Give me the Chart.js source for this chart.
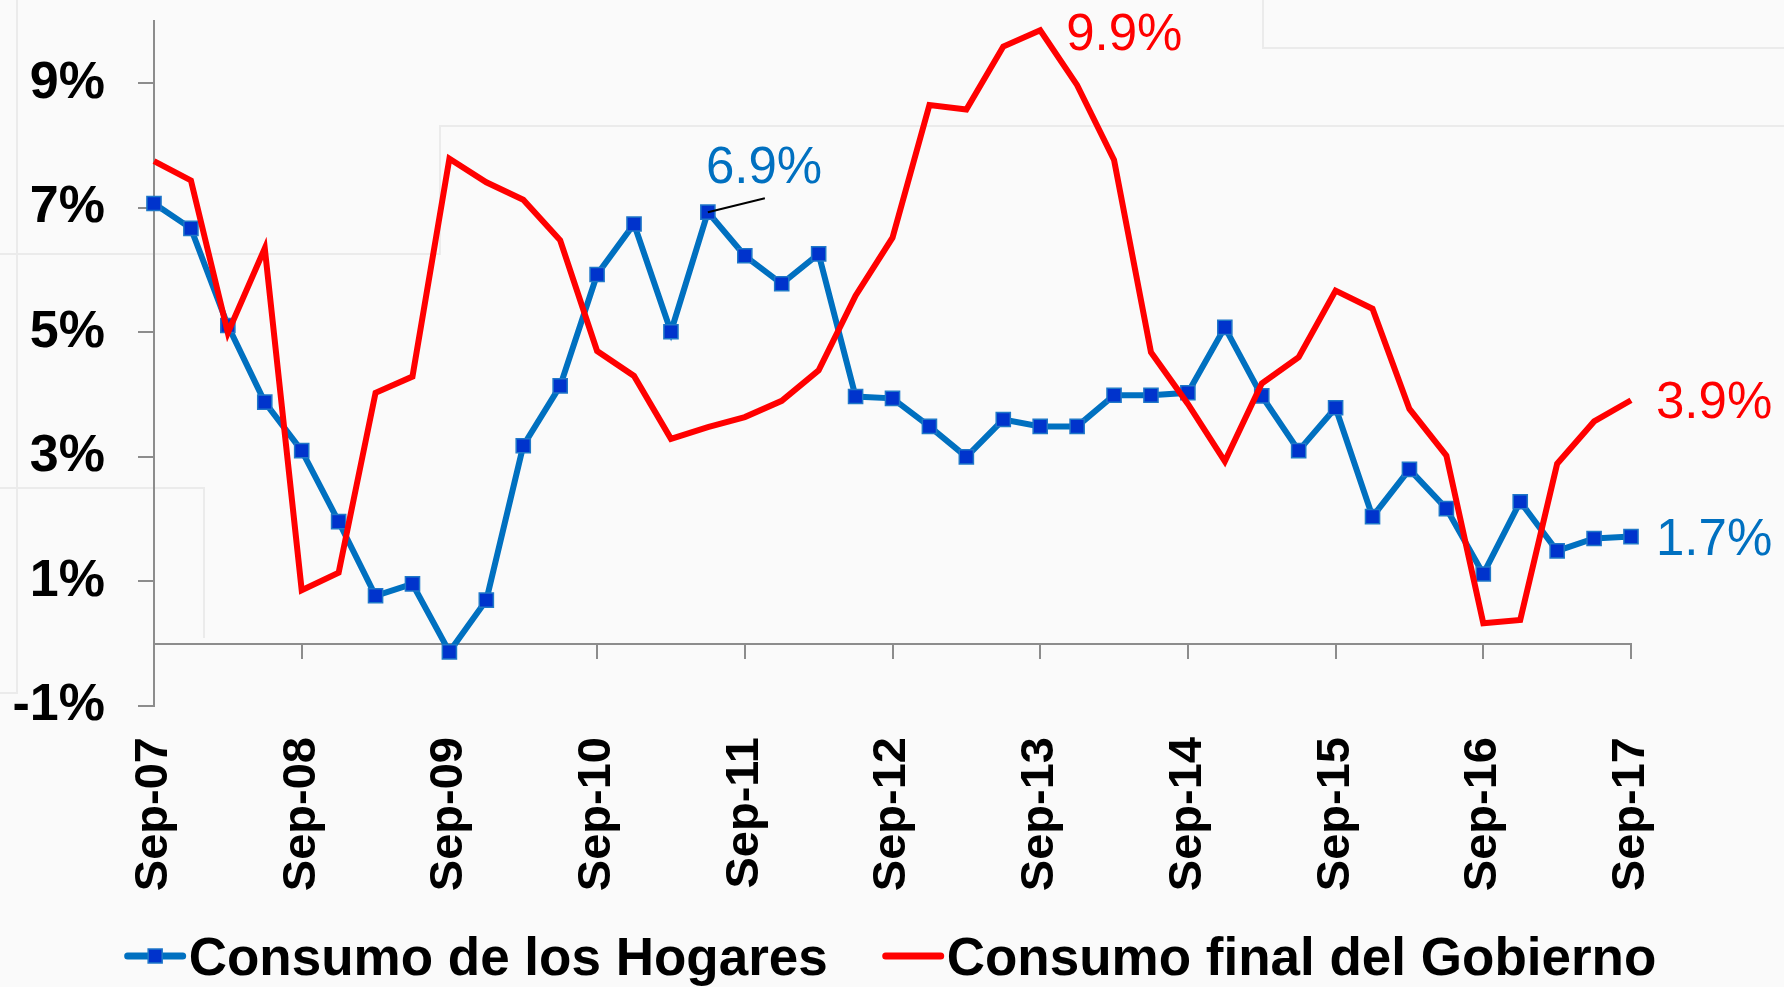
<!DOCTYPE html>
<html>
<head>
<meta charset="utf-8">
<script src="https://cdn.jsdelivr.net/npm/chart.js@4.4.1/dist/chart.umd.min.js"></script>
<style>
  html, body { margin: 0; padding: 0; background: #fafafa; }
  #wrap { width: 1784px; height: 987px; }
</style>
</head>
<body>
<div id="wrap"><canvas id="c" width="1784" height="987"></canvas></div>
<script>
// ---- data ----
const quarters = ['Sep-07','Dec-07','Mar-08','Jun-08','Sep-08','Dec-08','Mar-09','Jun-09','Sep-09','Dec-09',
  'Mar-10','Jun-10','Sep-10','Dec-10','Mar-11','Jun-11','Sep-11','Dec-11','Mar-12','Jun-12',
  'Sep-12','Dec-12','Mar-13','Jun-13','Sep-13','Dec-13','Mar-14','Jun-14','Sep-14','Dec-14',
  'Mar-15','Jun-15','Sep-15','Dec-15','Mar-16','Jun-16','Sep-16','Dec-16','Mar-17','Jun-17','Sep-17'];

const hogares = [7.07, 6.67, 5.11, 3.88, 3.10, 1.96, 0.77, 0.96, -0.13, 0.70,
  3.18, 4.14, 5.93, 6.74, 5.01, 6.93, 6.23, 5.78, 6.26, 3.97,
  3.94, 3.49, 3.00, 3.60, 3.49, 3.49, 3.99, 3.99, 4.03, 5.08,
  3.98, 3.10, 3.79, 2.04, 2.80, 2.17, 1.12, 2.28, 1.49, 1.69, 1.72];

const gobierno = [7.75, 7.44, 4.99, 6.35, 0.86, 1.14, 4.03, 4.29, 7.79, 7.41,
  7.13, 6.48, 4.70, 4.30, 3.29, 3.48, 3.64, 3.90, 4.39, 5.59,
  6.52, 8.65, 8.58, 9.59, 9.85, 8.97, 7.77, 4.68, 3.85, 2.93,
  4.18, 4.60, 5.67, 5.38, 3.77, 3.02, 0.33, 0.38, 2.89, 3.57, 3.91];

const seriesNames = ['Consumo de los Hogares', 'Consumo final del Gobierno'];
const yTicks = [-1, 1, 3, 5, 7, 9];
const yMin = -1, yMax = 10;
const labelEvery = 4;   // a tick label every 4 quarters (Sep of each year)

// callouts: [series index, point index, text]
const calloutSeries = [0, 1, 1, 0];
const calloutIndex  = [15, 24, 40, 40];
const calloutText   = ['6.9%', '9.9%', '3.9%', '1.7%'];

// ---- styles ----
const BLUE = '#0070C0', BLUE_MARK = '#0033CC', RED = '#FF0000', AXIS = '#8c8c8c';
const FAMILY = '"Liberation Sans", Arial, Helvetica, sans-serif';

const bgPlugin = {
  id: 'bg',
  beforeDraw(chart) {
    const ctx = chart.ctx;
    ctx.save();
    ctx.fillStyle = '#fafafa';
    ctx.fillRect(0, 0, chart.width, chart.height);
    // faint slide-background panels
    ctx.strokeStyle = '#ebebeb';
    ctx.lineWidth = 2;
    ctx.beginPath();
    ctx.moveTo(1263, 0); ctx.lineTo(1263, 48); ctx.lineTo(chart.width, 48);
    ctx.moveTo(chart.width, 126); ctx.lineTo(440, 126); ctx.lineTo(440, 254); ctx.lineTo(0, 254);
    ctx.moveTo(17, 0); ctx.lineTo(17, 693); ctx.lineTo(0, 693);
    ctx.moveTo(0, 488); ctx.lineTo(204, 488); ctx.lineTo(204, 638);
    ctx.stroke();
    ctx.restore();
  }
};

const calloutPlugin = {
  id: 'callouts',
  afterDatasetsDraw(chart) {
    const ctx = chart.ctx, xs = chart.scales.x, ys = chart.scales.y;
    const size = 51;
    ctx.save();
    ctx.font = size + 'px ' + FAMILY;
    ctx.textBaseline = 'alphabetic';
    ctx.textAlign = 'left';
    const base = 0.358 * size;
    for (let k = 0; k < calloutText.length; k++) {
      const s = calloutSeries[k], i = calloutIndex[k];
      const data = chart.data.datasets[s].data;
      const px = xs.getPixelForValue(i), py = ys.getPixelForValue(data[i]);
      ctx.fillStyle = s === 0 ? BLUE : RED;
      if (k === 0) {
        ctx.strokeStyle = '#000';
        ctx.lineWidth = 2;
        ctx.beginPath();
        ctx.moveTo(px, py);
        ctx.lineTo(px + 57, py - 14);
        ctx.stroke();
        ctx.fillText(calloutText[k], px - 2, py - 47 + base);
      } else if (k === 1) {
        ctx.fillText(calloutText[k], px + 26, py + 1 + base);
      } else {
        ctx.fillText(calloutText[k], px + 25, py + base);
      }
    }
    ctx.restore();
  }
};

const legendPlugin = {
  id: 'customLegend',
  afterDraw(chart) {
    const ctx = chart.ctx;
    const size = 53;
    ctx.save();
    ctx.font = 'bold ' + size + 'px ' + FAMILY;
    const lineLen = 55, gapText = 6, gapItem = 58;
    const w0 = ctx.measureText(seriesNames[0]).width;
    const w1 = ctx.measureText(seriesNames[1]).width;
    const total = lineLen + gapText + w0 + gapItem + lineLen + gapText + w1;
    let x = (chart.width - total) / 2;
    const cy = 956;
    // blue item
    ctx.lineCap = 'round';
    ctx.lineWidth = 7;
    ctx.strokeStyle = BLUE;
    ctx.beginPath(); ctx.moveTo(x, cy); ctx.lineTo(x + lineLen, cy); ctx.stroke();
    ctx.fillStyle = BLUE_MARK;
    ctx.fillRect(x + lineLen / 2 - 7, cy - 7, 14, 14);
    ctx.lineWidth = 1.5; ctx.strokeStyle = '#1f78c8';
    ctx.strokeRect(x + lineLen / 2 - 7, cy - 7, 14, 14);
    x += lineLen + gapText;
    ctx.fillStyle = '#000';
    ctx.textBaseline = 'alphabetic';
    ctx.fillText(seriesNames[0], x, cy + 0.358 * size);
    x += w0 + gapItem;
    // red item
    ctx.lineWidth = 7;
    ctx.strokeStyle = RED;
    ctx.beginPath(); ctx.moveTo(x, cy); ctx.lineTo(x + lineLen, cy); ctx.stroke();
    x += lineLen + gapText;
    ctx.fillStyle = '#000';
    ctx.fillText(seriesNames[1], x, cy + 0.358 * size);
    ctx.restore();
  }
};

new Chart(document.getElementById('c'), {
  type: 'line',
  data: {
    labels: quarters,
    datasets: [
      {
        label: seriesNames[0],
        data: hogares,
        borderColor: BLUE,
        borderWidth: 6,
        pointStyle: 'rect',
        pointRadius: 10,
        pointBackgroundColor: BLUE_MARK,
        pointBorderColor: '#1f78c8',
        pointBorderWidth: 1.5,
        tension: 0,
        order: 1
      },
      {
        label: seriesNames[1],
        data: gobierno,
        borderColor: RED,
        borderWidth: 6,
        pointRadius: 0,
        tension: 0,
        order: 0
      }
    ]
  },
  options: {
    responsive: false,
    animation: false,
    devicePixelRatio: 1,
    layout: { padding: { left: 0, right: 153, top: 21, bottom: 95 } },
    plugins: { legend: { display: false }, tooltip: { enabled: false } },
    scales: {
      x: {
        type: 'category',
        position: 'bottom',
        grid: { display: false, drawTicks: false },
        border: { display: false },
        ticks: {
          autoSkip: false,
          minRotation: 90,
          maxRotation: 90,
          padding: 31,
          color: '#000',
          font: { family: FAMILY, size: 47, weight: 'bold' },
          callback: function (v, i) { return i % labelEvery === 0 ? quarters[i] : ''; }
        },
        afterFit(s) { s.height = 186; s.paddingLeft = 0; s.paddingRight = 0; }
      },
      x0: {
        type: 'category',
        position: { y: 0 },
        grid: {
          drawOnChartArea: false,
          drawTicks: true,
          tickLength: 14,
          lineWidth: 2,
          color: (c) => (c.index % labelEvery === 0 ? AXIS : 'rgba(0,0,0,0)')
        },
        border: { display: true, color: AXIS, width: 2 },
        ticks: { display: false }
      },
      y: {
        type: 'linear',
        position: 'left',
        min: yMin,
        max: yMax,
        afterBuildTicks(s) { s.ticks = yTicks.map(v => ({ value: v })); },
        grid: { drawOnChartArea: false, drawTicks: true, tickLength: 16, lineWidth: 2, color: AXIS },
        border: { display: true, color: AXIS, width: 2 },
        ticks: {
          padding: 33,
          color: '#000',
          font: { family: FAMILY, size: 52, weight: 'bold' },
          callback: (v) => v + '%'
        },
        afterFit(s) { s.width = 154; s.paddingTop = 0; s.paddingBottom = 0; }
      }
    }
  },
  plugins: [bgPlugin, calloutPlugin, legendPlugin]
});
</script>
</body>
</html>
